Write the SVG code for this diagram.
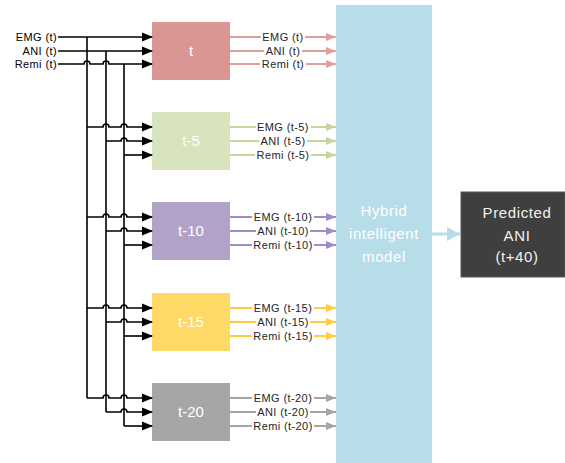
<svg xmlns="http://www.w3.org/2000/svg" width="565" height="463" viewBox="0 0 565 463">
<style>
text{font-family:"Liberation Sans",Arial,sans-serif}
.in{font-size:11px;letter-spacing:0.4px;fill:#000;text-anchor:end}
.lbl{font-size:11px;letter-spacing:0.4px;fill:#262626;text-anchor:middle}
.box{font-size:15px;fill:#fff;text-anchor:middle}
.big{font-size:15px;letter-spacing:0.6px;text-anchor:middle}
.k{fill:none;stroke:#000;stroke-width:1.6}
.ka{fill:none;stroke:#000;stroke-width:1.6;marker-end:url(#ab)}
</style>
<defs>
<marker id="ab" markerUnits="userSpaceOnUse" markerWidth="11" markerHeight="10" refX="10" refY="5" orient="auto"><path d="M0,0.5 L11,5 L0,9.5 z" fill="#000"/></marker>
<marker id="a0" markerUnits="userSpaceOnUse" markerWidth="10" markerHeight="8" refX="10" refY="4" orient="auto"><path d="M0,0 L10,4 L0,8 z" fill="#e09e9c"/></marker>
<marker id="a1" markerUnits="userSpaceOnUse" markerWidth="10" markerHeight="8" refX="10" refY="4" orient="auto"><path d="M0,0 L10,4 L0,8 z" fill="#c3d69b"/></marker>
<marker id="a2" markerUnits="userSpaceOnUse" markerWidth="10" markerHeight="8" refX="10" refY="4" orient="auto"><path d="M0,0 L10,4 L0,8 z" fill="#a08dc5"/></marker>
<marker id="a3" markerUnits="userSpaceOnUse" markerWidth="10" markerHeight="8" refX="10" refY="4" orient="auto"><path d="M0,0 L10,4 L0,8 z" fill="#ffcc40"/></marker>
<marker id="a4" markerUnits="userSpaceOnUse" markerWidth="10" markerHeight="8" refX="10" refY="4" orient="auto"><path d="M0,0 L10,4 L0,8 z" fill="#a6a6a6"/></marker>
<marker id="ah" markerUnits="userSpaceOnUse" markerWidth="14" markerHeight="14" refX="13" refY="7" orient="auto"><path d="M0,0 L13,7 L0,14 z" fill="#b7dde8"/></marker>
</defs>

<g id="hybrid">
<rect x="336" y="5" width="96" height="458" fill="#b7dde8"/>
<text class="big" x="384" y="216" fill="#ffffff">Hybrid</text>
<text class="big" x="384" y="239" fill="#ffffff">intelligent</text>
<text class="big" x="384" y="262" fill="#ffffff">model</text>
</g>

<g id="predicted">
<rect x="461" y="192" width="104" height="85" fill="#3f3f3f" stroke="#5a5a5a" stroke-width="1"/>
<text class="big" x="517" y="218" fill="#f2f2f2">Predicted</text>
<text class="big" x="517" y="241" fill="#f2f2f2">ANI</text>
<text class="big" x="517" y="262" fill="#f2f2f2">(t+40)</text>
</g>

<g id="inputs">
<text class="in" x="57" y="41">EMG (t)</text>
<text class="in" x="57" y="55">ANI (t)</text>
<text class="in" x="57" y="68">Remi (t)</text>
</g>

<g id="box-t"><rect x="152" y="22" width="78" height="58" fill="#d99694"/><text class="box" x="191" y="56">t</text></g>
<g id="box-t5"><rect x="152" y="112" width="78" height="58" fill="#d7e4bd"/><text class="box" x="191" y="146">t-5</text></g>
<g id="box-t10"><rect x="152" y="202" width="78" height="58" fill="#b3a2c7"/><text class="box" x="191" y="236">t-10</text></g>
<g id="box-t15"><rect x="152" y="293" width="78" height="58" fill="#ffd966"/><text class="box" x="191" y="327">t-15</text></g>
<g id="box-t20"><rect x="152" y="383" width="78" height="58" fill="#a6a6a6"/><text class="box" x="191" y="417">t-20</text></g>

<g id="connectors">
<!-- verticals -->
<path class="k" d="M87,37 V398"/>
<path class="k" d="M106,51 V412"/>
<path class="k" d="M124,64 V426"/>
<!-- group t inputs -->
<path class="ka" d="M58,37 H152"/>
<path class="ka" d="M58,51 H152"/>
<path class="ka" d="M58,64 H84 a3,3 0 0 1 6,0 H103 a3,3 0 0 1 6,0 H152"/>
<!-- t-5 -->
<path class="ka" d="M87,127 H103 a3,3 0 0 1 6,0 H121 a3,3 0 0 1 6,0 H152"/>
<path class="ka" d="M106,141 H121 a3,3 0 0 1 6,0 H152"/>
<path class="ka" d="M124,155 H152"/>
<!-- t-10 -->
<path class="ka" d="M87,217 H103 a3,3 0 0 1 6,0 H121 a3,3 0 0 1 6,0 H152"/>
<path class="ka" d="M106,231 H121 a3,3 0 0 1 6,0 H152"/>
<path class="ka" d="M124,245 H152"/>
<!-- t-15 -->
<path class="ka" d="M87,308 H103 a3,3 0 0 1 6,0 H121 a3,3 0 0 1 6,0 H152"/>
<path class="ka" d="M106,322 H121 a3,3 0 0 1 6,0 H152"/>
<path class="ka" d="M124,336 H152"/>
<!-- t-20 -->
<path class="ka" d="M87,398 H103 a3,3 0 0 1 6,0 H121 a3,3 0 0 1 6,0 H152"/>
<path class="ka" d="M106,412 H121 a3,3 0 0 1 6,0 H152"/>
<path class="ka" d="M124,426 H152"/>

<!-- outputs t -->
<g stroke="#e09e9c" stroke-width="2" fill="none">
<path d="M230,37 H261"/><path d="M305,37 H336" marker-end="url(#a0)"/>
<path d="M230,51 H264"/><path d="M302,51 H336" marker-end="url(#a0)"/>
<path d="M230,64 H260"/><path d="M306,64 H336" marker-end="url(#a0)"/>
</g>
<g stroke="#c3d69b" stroke-width="2" fill="none">
<path d="M230,127 H256"/><path d="M311,127 H336" marker-end="url(#a1)"/>
<path d="M230,141 H259"/><path d="M307,141 H336" marker-end="url(#a1)"/>
<path d="M230,155 H255"/><path d="M311,155 H336" marker-end="url(#a1)"/>
</g>
<g stroke="#a08dc5" stroke-width="2" fill="none">
<path d="M230,217 H252"/><path d="M314,217 H336" marker-end="url(#a2)"/>
<path d="M230,231 H256"/><path d="M310,231 H336" marker-end="url(#a2)"/>
<path d="M230,245 H252"/><path d="M314,245 H336" marker-end="url(#a2)"/>
</g>
<g stroke="#ffcc40" stroke-width="2" fill="none">
<path d="M230,308 H252"/><path d="M314,308 H336" marker-end="url(#a3)"/>
<path d="M230,322 H256"/><path d="M310,322 H336" marker-end="url(#a3)"/>
<path d="M230,336 H252"/><path d="M314,336 H336" marker-end="url(#a3)"/>
</g>
<g stroke="#a6a6a6" stroke-width="2" fill="none">
<path d="M230,398 H252"/><path d="M314,398 H336" marker-end="url(#a4)"/>
<path d="M230,412 H256"/><path d="M310,412 H336" marker-end="url(#a4)"/>
<path d="M230,426 H252"/><path d="M314,426 H336" marker-end="url(#a4)"/>
</g>
<!-- hybrid to predicted -->
<path d="M432,234 H460" stroke="#b7dde8" stroke-width="3" fill="none" marker-end="url(#ah)"/>

<!-- output labels -->
<text class="lbl" x="283" y="41">EMG (t)</text>
<text class="lbl" x="283" y="55">ANI (t)</text>
<text class="lbl" x="283" y="68">Remi (t)</text>
<text class="lbl" x="283" y="131">EMG (t-5)</text>
<text class="lbl" x="283" y="145">ANI (t-5)</text>
<text class="lbl" x="283" y="159">Remi (t-5)</text>
<text class="lbl" x="283" y="221">EMG (t-10)</text>
<text class="lbl" x="283" y="235">ANI (t-10)</text>
<text class="lbl" x="283" y="249">Remi (t-10)</text>
<text class="lbl" x="283" y="312">EMG (t-15)</text>
<text class="lbl" x="283" y="326">ANI (t-15)</text>
<text class="lbl" x="283" y="340">Remi (t-15)</text>
<text class="lbl" x="283" y="402">EMG (t-20)</text>
<text class="lbl" x="283" y="416">ANI (t-20)</text>
<text class="lbl" x="283" y="430">Remi (t-20)</text>
</g>
</svg>
